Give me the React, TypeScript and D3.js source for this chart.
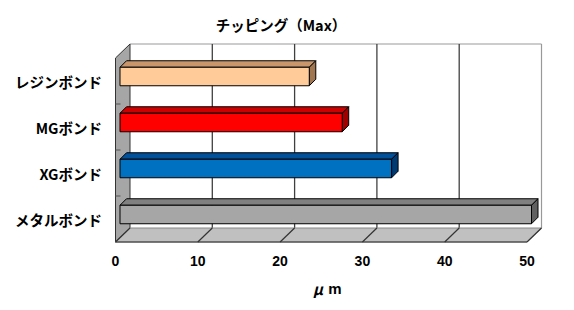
import React from "react";
import * as d3 from "d3";

const title = "チッピング（Max）";
const categories = ["レジンボンド", "MGボンド", "XGボンド", "メタルボンド"];
const values = [23, 27, 33, 50];
const ticks = [0, 10, 20, 30, 40, 50];
const axisTitle = ["μ", "m"];
const frontColors = ["#FFCC99", "#FF0000", "#0070C0", "#A6A6A6"];
const topColors = ["#C8966A", "#CC0000", "#00509A", "#808080"];
const sideColors = ["#A07650", "#A00000", "#003A72", "#606060"];

const W = 574, H = 310;
const DX = 14.5, DY = -14;
const BX = 4.5, BY = -4.5; // bar front-face depth offset
const BD = 6.5; // bar depth

export default function App() {
  const x = d3.scaleLinear().domain([0, 50]).range([115.5, 527]);
  const y = d3.scaleBand<string>().domain(categories).range([58, 242]);
  const y0 = 58, y1 = 242;
  const barH = 18.5;
  const jp = "'Noto Sans CJK JP', sans-serif";
  const lat = "'Liberation Sans', Arial, sans-serif";
  return (
    <svg width={W} height={H} style={{ position: "absolute", left: 0, top: 0 }}>
      <rect x={0} y={0} width={W} height={H} fill="#fff" />
      {/* back wall */}
      <line x1={x(0) + DX} x2={x(50) + DX} y1={y0 + DY} y2={y0 + DY} stroke="#999" strokeWidth={1.2} />
      <line x1={x(50) + DX} x2={x(50) + DX} y1={y0 + DY} y2={y1 + DY} stroke="#999" strokeWidth={1.2} />
      {ticks.filter((t) => t > 0 && t < 50).map((t) => (
        <line key={"g" + t} x1={x(t) + DX} x2={x(t) + DX} y1={y0 + DY} y2={y1 + DY} stroke="#404040" strokeWidth={1.3} />
      ))}
      {/* left wall */}
      <polygon
        points={`${x(0)},${y0} ${x(0) + DX},${y0 + DY} ${x(0) + DX},${y1 + DY} ${x(0)},${y1}`}
        fill="#A6A6A6" stroke="#333" strokeWidth={1}
      />
      {categories.slice(1).map((c) => (
        <line key={"lt" + c} x1={x(0)} x2={x(0) + 5} y1={y(c)!} y2={y(c)!} stroke="#555" strokeWidth={1} />
      ))}
      {/* floor */}
      <polygon
        points={`${x(0)},${y1} ${x(50)},${y1} ${x(50) + DX},${y1 + DY} ${x(0) + DX},${y1 + DY}`}
        fill="#C0C0C0" stroke="#888" strokeWidth={1}
      />
      <line x1={x(0)} x2={x(50)} y1={y1} y2={y1} stroke="#333" strokeWidth={1.2} />
      {ticks.map((t) => (
        <line key={"f" + t} x1={x(t)} x2={x(t) + DX} y1={y1} y2={y1 + DY} stroke="#333" strokeWidth={1.2} />
      ))}
      {/* bars */}
      {categories.map((c, i) => {
        const cy = y(c)! + y.bandwidth() / 2 + BY;
        const fx0 = x(0) + BX;
        const fx1 = x(values[i]) + BX;
        const top = cy - barH / 2;
        const bot = cy + barH / 2;
        return (
          <g key={c} stroke="#000" strokeWidth={1} strokeLinejoin="round">
            <polygon points={`${fx0},${top} ${fx1},${top} ${fx1 + BD},${top - BD} ${fx0 + BD},${top - BD}`} fill={topColors[i]} />
            <polygon points={`${fx1},${top} ${fx1 + BD},${top - BD} ${fx1 + BD},${bot - BD} ${fx1},${bot}`} fill={sideColors[i]} />
            <rect x={fx0} y={top} width={fx1 - fx0} height={barH} fill={frontColors[i]} />
          </g>
        );
      })}
      {/* category labels */}
      {categories.map((c) => (
        <text key={"l" + c} x={102} y={y(c)! + y.bandwidth() / 2} textAnchor="end" dominantBaseline="central"
          fontFamily={jp} fontWeight="bold" fontSize={14.5} fill="#000">{c}</text>
      ))}
      {/* tick labels */}
      {ticks.map((t) => (
        <text key={"t" + t} x={x(t)} y={261} textAnchor="middle" dominantBaseline="central"
          fontFamily={lat} fontWeight="bold" fontSize={14} fill="#000">{t}</text>
      ))}
      <text x={318} y={288} textAnchor="middle" dominantBaseline="central" fontFamily={jp} fontWeight="bold" fontSize={15} fontStyle="italic">{axisTitle[0]}</text>
      <text x={335} y={288} textAnchor="middle" dominantBaseline="central" fontFamily={lat} fontWeight="bold" fontSize={15}>{axisTitle[1]}</text>
      <text x={281} y={24} textAnchor="middle" dominantBaseline="central" fontFamily={jp} fontWeight="bold" fontSize={14.5}>{title}</text>
    </svg>
  );
}
